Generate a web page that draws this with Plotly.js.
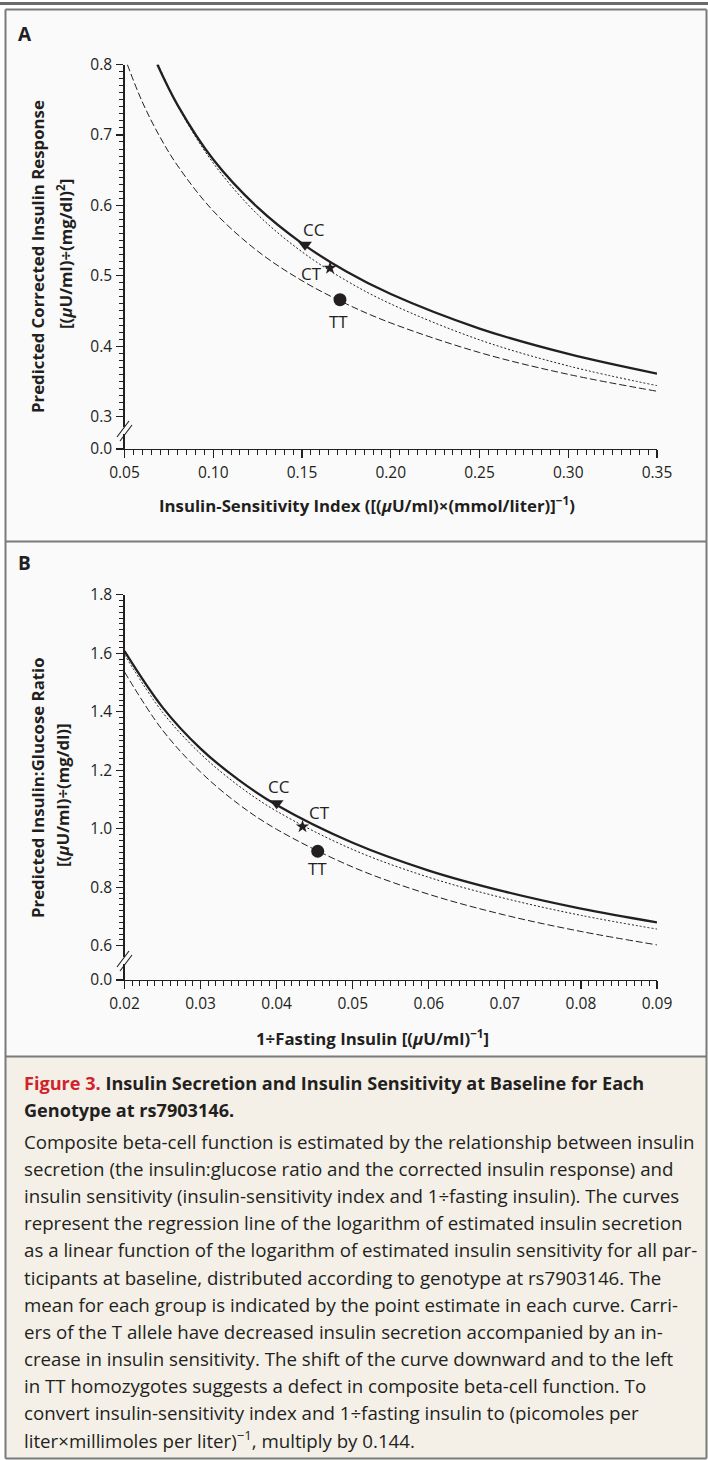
<!DOCTYPE html>
<html>
<head>
<meta charset="utf-8">
<script src="https://cdn.plot.ly/plotly-3.0.1.min.js"></script>
<style>html,body{margin:0;padding:0;background:#fff;}#chart{width:708px;height:1460px;}</style>
</head>
<body>
<div id="chart"></div>
<script>
// ---------- DATA ----------
// Panel A: Insulin-sensitivity index vs predicted corrected insulin response
const aCCx = [0.0685, 0.08, 0.10, 0.125, 0.15, 0.175, 0.20, 0.25, 0.30, 0.35];
const aCCy = [0.800, 0.742, 0.665, 0.597, 0.546, 0.506, 0.474, 0.425, 0.389, 0.361];
const aCTx = [0.069, 0.08, 0.10, 0.125, 0.15, 0.175, 0.20, 0.25, 0.30, 0.35];
const aCTy = [0.800, 0.741, 0.660, 0.587, 0.534, 0.493, 0.460, 0.409, 0.372, 0.344];
const aTTx = [0.0516, 0.06, 0.07, 0.08, 0.10, 0.125, 0.15, 0.175, 0.20, 0.25, 0.30, 0.35];
const aTTy = [0.800, 0.747, 0.697, 0.656, 0.592, 0.535, 0.493, 0.460, 0.433, 0.391, 0.360, 0.336];
const aMeanX = [0.1517, 0.1658, 0.1714];
const aMeanY = [0.544, 0.511, 0.466];
const aLabelX = [0.1568, 0.1555, 0.1708];
const aLabelY = [0.565, 0.503, 0.435];

// Panel B: 1/fasting insulin vs predicted insulin:glucose ratio
const bCCx = [0.02, 0.025, 0.03, 0.035, 0.04, 0.05, 0.06, 0.07, 0.08, 0.09];
const bCCy = [1.607, 1.415, 1.274, 1.167, 1.081, 0.952, 0.857, 0.785, 0.727, 0.680];
const bCTx = [0.02, 0.025, 0.03, 0.035, 0.04, 0.05, 0.06, 0.07, 0.08, 0.09];
const bCTy = [1.595, 1.398, 1.256, 1.147, 1.060, 0.929, 0.834, 0.762, 0.704, 0.657];
const bTTx = [0.02, 0.025, 0.03, 0.035, 0.04, 0.05, 0.06, 0.07, 0.08, 0.09];
const bTTy = [1.536, 1.337, 1.194, 1.084, 0.998, 0.869, 0.776, 0.705, 0.649, 0.603];
const bMeanX = [0.0400, 0.0434, 0.0454];
const bMeanY = [1.087, 1.007, 0.923];
const bLabelX = [0.04035, 0.0456, 0.04535];
const bLabelY = [1.144, 1.055, 0.863];

const genotypes = ['CC', 'CT', 'TT'];

// Tick labels
const aXTicks = [0.05, 0.10, 0.15, 0.20, 0.25, 0.30, 0.35];
const aXTickText = ['0.05', '0.10', '0.15', '0.20', '0.25', '0.30', '0.35'];
const aYTicks = [0.3, 0.4, 0.5, 0.6, 0.7, 0.8];
const aYTickText = ['0.3', '0.4', '0.5', '0.6', '0.7', '0.8'];
const bXTicks = [0.02, 0.03, 0.04, 0.05, 0.06, 0.07, 0.08, 0.09];
const bXTickText = ['0.02', '0.03', '0.04', '0.05', '0.06', '0.07', '0.08', '0.09'];
const bYTicks = [0.6, 0.8, 1.0, 1.2, 1.4, 1.6, 1.8];
const bYTickText = ['0.6', '0.8', '1.0', '1.2', '1.4', '1.6', '1.8'];
const zeroLabel = '0.0';

// Text
const aYTitle1 = 'Predicted Corrected Insulin Response';
const aYTitle2 = '[(<i>μ</i>U/ml)÷(mg/dl)<sup>2</sup>]';
const aXTitle = 'Insulin-Sensitivity Index ([(<i>μ</i>U/ml)×(mmol/liter)]<sup>−1</sup>)';
const bYTitle1 = 'Predicted Insulin:Glucose Ratio';
const bYTitle2 = '[(<i>μ</i>U/ml)÷(mg/dl)]';
const bXTitle = '1÷Fasting Insulin [(<i>μ</i>U/ml)<sup>−1</sup>]';
const captionTitle = [
  '<span style="color:#d1232a">Figure 3.</span> Insulin Secretion and Insulin Sensitivity at Baseline for Each',
  'Genotype at rs7903146.'
];
const captionBody = [
  'Composite beta-cell function is estimated by the relationship between insulin',
  'secretion (the insulin:glucose ratio and the corrected insulin response) and',
  'insulin sensitivity (insulin-sensitivity index and 1÷fasting insulin). The curves',
  'represent the regression line of the logarithm of estimated insulin secretion',
  'as a linear function of the logarithm of estimated insulin sensitivity for all par-',
  'ticipants at baseline, distributed according to genotype at rs7903146. The',
  'mean for each group is indicated by the point estimate in each curve. Carri-',
  'ers of the T allele have decreased insulin secretion accompanied by an in-',
  'crease in insulin sensitivity. The shift of the curve downward and to the left',
  'in TT homozygotes suggests a defect in composite beta-cell function. To',
  'convert insulin-sensitivity index and 1÷fasting insulin to (picomoles per',
  'liter×millimoles per liter)<sup>−1</sup>, multiply by 0.144.'
];

// ---------- LAYOUT HELPERS ----------
const W = 708, H = 1460;
const px = x => x / W;
const py = y => 1 - y / H;
const INK = '#231f20';
const FONT = '"Open Sans", "Noto Sans", sans-serif';
const PANEL_BG = '#fafafa';
const CAP_BG = '#f4f0e8';
const FRAME = '#7a7a7a';

const aBreak = 0.254;   // axis position drawn as "0.0" below the break
const bBreak = 0.483;

function range(a, b, s) { const r = []; for (let v = a; v <= b + 1e-9; v += s) r.push(+v.toFixed(4)); return r; }

const lineStyles = [
  {color: INK, width: 2.3, dash: 'solid'},
  {color: INK, width: 1, dash: '2px,2px'},
  {color: INK, width: 1, dash: '7px,3px'}
];
const markerSymbols = ['triangle-down', 'star', 'circle'];
const markerSizes = [12, 10, 13];

function curve(x, y, i, xa, ya) {
  return {x, y, type: 'scatter', mode: 'lines', line: Object.assign({shape: 'spline', smoothing: 1}, lineStyles[i]),
          xaxis: xa, yaxis: ya, hoverinfo: 'skip', showlegend: false};
}
function means(x, y, xa, ya) {
  return {x, y, type: 'scatter', mode: 'markers', xaxis: xa, yaxis: ya, showlegend: false, cliponaxis: false, opacity: 1,
          marker: {symbol: markerSymbols, size: markerSizes, color: INK, opacity: 1, line: {width: 0}}};
}

const data = [
  curve(aCCx, aCCy, 0, 'x', 'y'), curve(aCTx, aCTy, 1, 'x', 'y'), curve(aTTx, aTTy, 2, 'x', 'y'),
  means(aMeanX, aMeanY, 'x', 'y'),
  curve(bCCx, bCCy, 0, 'x2', 'y2'), curve(bCTx, bCTy, 1, 'x2', 'y2'), curve(bTTx, bTTy, 2, 'x2', 'y2'),
  means(bMeanX, bMeanY, 'x2', 'y2')
];

const tickFont = {family: FONT, size: 15.5, color: INK};
function xAxis(ticks, text, rng, minorStep, anchor) {
  return {domain: [px(124.5), px(657)], range: rng, anchor: anchor, tickmode: 'array', tickvals: ticks, ticktext: text,
          ticks: 'outside', ticklen: 8, tickwidth: 1.2, tickcolor: INK, showline: true, linecolor: INK, linewidth: 1.3,
          showgrid: false, zeroline: false, tickfont: tickFont, ticklabelstandoff: 1,
          minor: {tickmode: 'linear', tick0: rng[0], dtick: minorStep, ticks: 'outside', ticklen: 5, tickwidth: 1, tickcolor: INK, showgrid: false}};
}
function yAxis(dom, ticks, text, brk, rng, minorVals, anchor) {
  return {domain: dom, range: rng, anchor: anchor, tickmode: 'array', tickvals: [brk].concat(ticks), ticktext: [zeroLabel].concat(text),
          ticks: 'outside', ticklen: 7, tickwidth: 1.2, tickcolor: INK, showline: true, linecolor: INK, linewidth: 1.3,
          showgrid: false, zeroline: false, tickfont: tickFont, ticklabelstandoff: 1,
          minor: {tickmode: 'array', tickvals: minorVals, ticks: 'outside', ticklen: 4, tickwidth: 1, tickcolor: INK, showgrid: false}};
}

const shapes = [];
function rect(x0, y0, x1, y1, fill, layer) {
  shapes.push({type: 'rect', xref: 'paper', yref: 'paper', x0: px(x0), x1: px(x1), y0: py(y0), y1: py(y1),
               fillcolor: fill, line: {width: 0}, layer: layer || 'below'});
}
function seg(x0, y0, x1, y1, color, width, layer) {
  shapes.push({type: 'line', xref: 'paper', yref: 'paper', x0: px(x0), x1: px(x1), y0: py(y0), y1: py(y1),
               line: {color: color, width: width}, layer: layer || 'below'});
}
rect(5.5, 9.5, 706.5, 1056.5, PANEL_BG);
rect(5.5, 1056.5, 706.5, 1458, CAP_BG);
seg(0, 3.5, 708, 3.5, '#6b6b6b', 3);
seg(5.5, 9.5, 706.5, 9.5, FRAME, 2);
seg(5.5, 541.5, 706.5, 541.5, FRAME, 2);
seg(5.5, 1056.5, 706.5, 1056.5, FRAME, 2);
seg(5.5, 1458.5, 706.5, 1458.5, FRAME, 2);
seg(5.5, 9.5, 5.5, 1458.5, FRAME, 2);
seg(706.5, 9.5, 706.5, 1458.5, FRAME, 2);
function brk(m) {
  rect(121, m - 5, 129, m + 2, PANEL_BG, 'above');
  seg(117, m + 5, 129, m - 11, INK, 1.1, 'above');
  seg(120, m + 9, 132, m - 7, INK, 1.1, 'above');
}
brk(432);
brk(962);

const ann = [];
const TITLE_SIZE = 16.8;
function txt(x, y, t, opts) {
  ann.push(Object.assign({xref: 'paper', yref: 'paper', x: px(x), y: py(y), text: t, showarrow: false,
    xanchor: 'center', yanchor: 'middle', font: {family: FONT, size: TITLE_SIZE, color: INK}}, opts || {}));
}
const bold = s => '<b>' + s + '</b>';
txt(16, 34, bold('A'), {xanchor: 'left', font: {family: FONT, size: 19, color: INK}});
txt(16, 563, bold('B'), {xanchor: 'left', font: {family: FONT, size: 19, color: INK}});
txt(38, 257, bold(aYTitle1), {textangle: -90});
txt(64, 254, bold(aYTitle2), {textangle: -90});
txt(367, 505, bold(aXTitle));
txt(37, 788, bold(bYTitle1), {textangle: -90});
txt(63, 795, bold(bYTitle2), {textangle: -90});
txt(372, 1037, bold(bXTitle));
captionTitle.forEach((t, i) => txt(22, 1083 + i * 27, bold(t), {xanchor: 'left', font: {family: FONT, size: 18.1, color: INK}}));
captionBody.forEach((t, i) => txt(22, 1141.5 + i * 27.1, t, {xanchor: 'left', font: {family: FONT, size: 18.7, color: INK}}));
genotypes.forEach((g, i) => {
  ann.push({xref: 'x', yref: 'y', x: aLabelX[i], y: aLabelY[i], text: g, showarrow: false, xanchor: 'center', yanchor: 'middle',
            font: {family: FONT, size: 17, color: INK}});
  ann.push({xref: 'x2', yref: 'y2', x: bLabelX[i], y: bLabelY[i], text: g, showarrow: false, xanchor: 'center', yanchor: 'middle',
            font: {family: FONT, size: 17, color: INK}});
});

const aMinorY = range(0.31, 0.79, 0.01).filter(v => Math.abs(v * 10 - Math.round(v * 10)) > 1e-6);
const bMinorY = range(0.62, 1.78, 0.02).filter(v => Math.abs(v * 5 - Math.round(v * 5)) > 1e-6);

const layout = {
  width: W, height: H, margin: {l: 0, r: 0, t: 0, b: 0},
  paper_bgcolor: '#ffffff', plot_bgcolor: 'rgba(0,0,0,0)',
  showlegend: false,
  xaxis: xAxis(aXTicks, aXTickText, [0.05, 0.35], 0.005, 'y'),
  yaxis: yAxis([py(449), py(64.5)], aYTicks, aYTickText, aBreak, [aBreak, 0.8], aMinorY, 'x'),
  xaxis2: xAxis(bXTicks, bXTickText, [0.02, 0.09], 0.001, 'y2'),
  yaxis2: yAxis([py(980), py(594.7)], bYTicks, bYTickText, bBreak, [bBreak, 1.8], bMinorY, 'x2'),
  shapes: shapes,
  annotations: ann
};

Plotly.newPlot('chart', data, layout, {staticPlot: true, displayModeBar: false});
</script>
</body>
</html>
